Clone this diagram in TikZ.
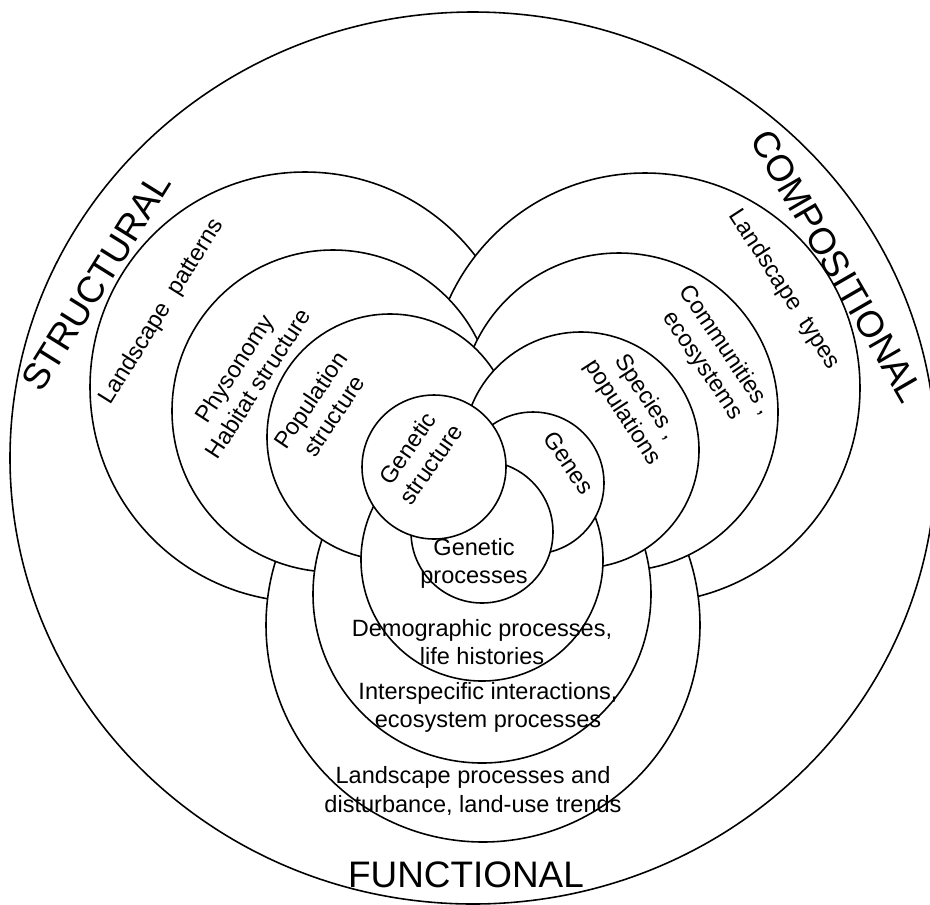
\documentclass[tikz,border=0pt]{standalone}
\usepackage{fontspec}
\setmainfont{Liberation Sans}
\begin{document}
\begin{tikzpicture}[x=0.02cm,y=-0.02cm,
    ring/.style={draw=black,line width=0.9pt,fill=white},
    lab/.style={align=center,inner sep=0pt,font=\fontsize{13.4}{16}\selectfont},
    biglab/.style={inner sep=0pt,font=\fontsize{21}{24}\selectfont}
  ]

  \useasboundingbox (0,0) rectangle (930,904);
  \clip (0,0) rectangle (930,904);

  % Outer boundary
  \draw[ring] (473,458) ellipse [x radius=463, y radius=446];

  % Level 1: landscape
  \draw[ring] (305,387) circle [radius=215];
  \draw[ring] (645,388) circle [radius=215];
  \draw[ring] (483,625) circle [radius=217];

  % Level 2: community
  \draw[ring] (333,411) circle [radius=161];
  \draw[ring] (619,412) circle [radius=159];
  \draw[ring] (482,594) circle [radius=169];

  % Level 3: population
  \draw[ring] (390,437) circle [radius=123];
  \draw[ring] (581,450) circle [radius=118];
  \draw[ring] (482,560) circle [radius=121];

  % Level 4: genetic
  \draw[ring] (533,483) circle [radius=71];
  \draw[ring] (482,532) circle [radius=71];
  \draw[ring] (434,467) circle [radius=72];

  % Attribute names
  \node[biglab,rotate=58] (structural) at (96,282) {STRUCTURAL};
  \node[biglab,rotate=-60] (compositional) at (837,266) {COMPOSITIONAL};
  \node[biglab] (functional) at (466,875) {FUNCTIONAL};

  % Structural labels
  \node[lab,rotate=58] (patterns) at (162,312) {Landscape\ \ patterns};
  \node[lab,rotate=57] (physonomy) at (246,376) {Physonomy\\Habitat structure};
  \node[lab,rotate=56] (population) at (322,408) {Population\\structure};
  \node[lab,rotate=55] (genstruct) at (419,456) {Genetic\\structure};

  % Compositional labels
  \node[lab,rotate=-56] (genes) at (569,463) {Genes};
  \node[lab,rotate=-57] (species) at (634,405) {Species ,\\populations};
  \node[lab,rotate=-56] (communities) at (714,358) {Communities ,\\ecosystems};
  \node[lab,rotate=-57] (types) at (784,290) {Landscape\ \ types};

  % Functional labels
  \node[lab] (genproc) at (474,563) {Genetic\\processes};
  \node[lab] (demog) at (482,642) {Demographic processes,\\life histories};
  \node[lab] (intersp) at (488,707) {Interspecific interactions,\\ecosystem processes};
  \node[lab] (landproc) at (473,791) {Landscape processes and\\disturbance, land-use trends};

\end{tikzpicture}
\end{document}
